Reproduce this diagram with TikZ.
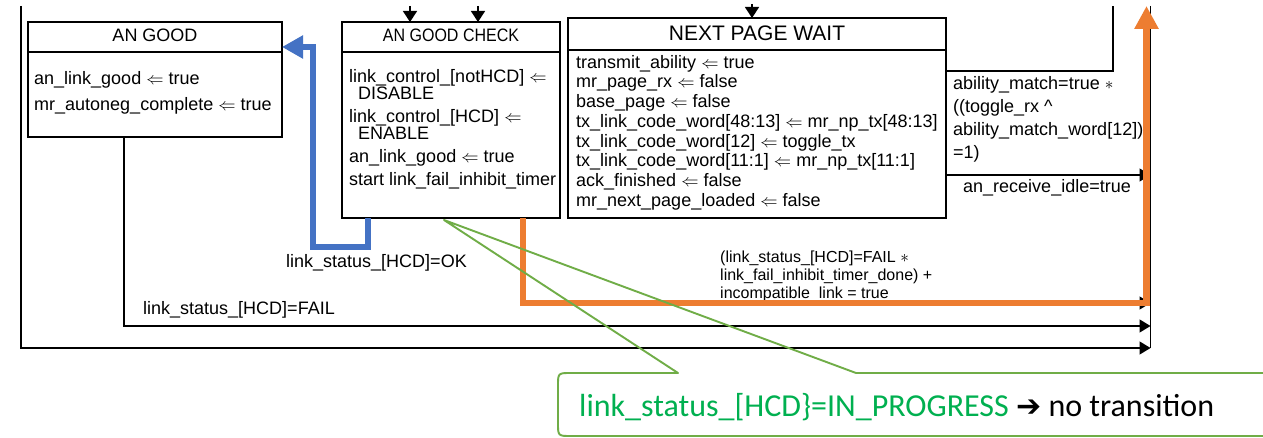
\documentclass[tikz,border=0pt]{standalone}
\usepackage{fontspec}
\setmainfont{Liberation Sans}
\newfontfamily\narrowfont[FakeStretch=0.89]{Liberation Sans}
\newfontfamily\calibfont{Carlito}
\newfontfamily\dejavufont{DejaVu Sans}
\usetikzlibrary{arrows.meta}
\definecolor{hlblue}{HTML}{4472C4}
\definecolor{hlorange}{HTML}{ED7D31}
\definecolor{callline}{HTML}{70AD47}
\definecolor{calltext}{HTML}{00B050}
\newcommand{\getsarrow}{\ensuremath{\Leftarrow}}
\begin{document}
\begin{tikzpicture}[x=1pt,y=-1pt,
  statebox/.style={draw, line width=1.6pt, inner sep=0pt, outer sep=0pt, anchor=north west},
  body/.style={anchor=north west, inner sep=0pt, align=left, font=\fontsize{18}{20}\selectfont},
  lbl/.style={inner sep=0pt, font=\fontsize{18}{20}\selectfont},
  conn/.style={line width=1.4pt, -{Triangle[length=11pt,width=13pt]}},
  plainline/.style={line width=1.4pt},
  topin/.style={line width=1.4pt, -{Triangle[length=11pt,width=14pt]}},
  hlb/.style={hlblue, line width=6.5pt, -{Triangle[length=21pt,width=22pt]}},
  hlo/.style={hlorange, line width=6.5pt, -{Triangle[length=23pt,width=23pt]}},
  callout/.style={callline, line width=1.9pt},
]
\useasboundingbox (0,0) rectangle (1263,438);
\clip (0,0) rectangle (1263,438);
\fill[white] (0,0) rectangle (1263,438);

% states
\node[statebox, minimum width=254pt, minimum height=115pt] (ag) at (28,22) {};
\node[statebox, minimum width=218pt, minimum height=196pt] (acg) at (342,22) {};
\node[statebox, minimum width=378pt, minimum height=200pt] (npw) at (568,18) {};
\draw[plainline] ([yshift=-30pt]ag.north west) -- ([yshift=-30pt]ag.north east);
\draw[plainline] ([yshift=-30pt]acg.north west) -- ([yshift=-30pt]acg.north east);
\draw[plainline] ([yshift=-32pt]npw.north west) -- ([yshift=-32pt]npw.north east);

\node[lbl] (agt) at (155,35.5) {AN GOOD};
\node[lbl, font=\narrowfont\fontsize{18}{20}\selectfont] (acgt) at (451,35.5) {AN GOOD CHECK};
\node[lbl, font=\fontsize{21}{24}\selectfont] (npwt) at (757,33.5) {NEXT PAGE WAIT};

\node[body, font=\fontsize{18}{26}\selectfont] (agb) at (34,71)
  {an\_link\_good \getsarrow{} true\\mr\_autoneg\_complete \getsarrow{} true};
\node[body, font=\fontsize{18}{17}\selectfont] (acgb) at (349,69)
  {link\_control\_[notHCD] \getsarrow\\
   \hspace*{9pt}DISABLE\\[6pt]
   link\_control\_[HCD] \getsarrow\\
   \hspace*{9pt}ENABLE\\[6pt]
   an\_link\_good \getsarrow{} true\\[6pt]
   start link\_fail\_inhibit\_timer};
\node[body, font=\fontsize{18}{19.7}\selectfont] (npwb) at (576,55)
  {transmit\_ability \getsarrow{} true\\
   mr\_page\_rx \getsarrow{} false\\
   base\_page \getsarrow{} false\\
   tx\_link\_code\_word[48:13] \getsarrow{} mr\_np\_tx[48:13]\\
   tx\_link\_code\_word[12] \getsarrow{} toggle\_tx\\
   tx\_link\_code\_word[11:1] \getsarrow{} mr\_np\_tx[11:1]\\
   ack\_finished \getsarrow{} false\\
   mr\_next\_page\_loaded \getsarrow{} false};

% coordinates
\coordinate (busT) at (1150.5,6);
\coordinate (busB) at (1150.5,348);
\coordinate (outerT) at (21,6);
\coordinate (failY) at (0,326);
\coordinate (oY) at (0,303);
\coordinate (idY) at (0,175);
\coordinate (abY) at (0,71);
\coordinate (abTop) at (1113,6);
\coordinate (in1) at (410,6);
\coordinate (in2) at (478,6);
\coordinate (in3) at (752,4);
\coordinate (oCorner) at (1146.5,303);
\coordinate (oTip) at (1146.5,6);
\coordinate (bTurn) at (313,247);
\coordinate (bTop) at (313,47);

% black connectors
\draw[plainline] (busT) -- (busB);
\draw[conn] (outerT) |- (busB);
\draw[conn] ([xshift=-31pt]ag.south) |- (busT |- failY);
\draw[conn] ([xshift=181pt]acg.south west) |- (busT |- oY);
\draw[conn] (npw.east |- idY) -- (busT |- idY);
\draw[plainline] (npw.east |- abY) -| (abTop);
\draw[topin] (in1) -- (in1 |- acg.north);
\draw[topin] (in2) -- (in2 |- acg.north);
\draw[topin] (in3) -- (in3 |- npw.north);

% labels
\node[lbl, anchor=west] (okl) at (286,263) {link\_status\_[HCD]=OK};
\node[lbl, anchor=west] (faill) at (143,310) {link\_status\_[HCD]=FAIL};
\node[body, font=\fontsize{16}{18}\selectfont] (incl) at (720,251)
  {(link\_status\_[HCD]=FAIL $\ast$\\link\_fail\_inhibit\_timer\_done) +\\incompatible\_link = true};
\node[body, font=\fontsize{18}{23}\selectfont] (abl) at (953,76)
  {ability\_match=true $\ast$\\((toggle\_rx \textasciicircum\\ability\_match\_word[12])\\=1)};
\node[lbl, anchor=west] (idl) at (963,188) {an\_receive\_idle=true};

% highlights
\draw[hlb] ([xshift=26pt]acg.south west) |- (bTurn) -- (bTop) -- (ag.east |- bTop);
\draw[hlo] ([xshift=181pt]acg.south west) |- (oCorner) -- (oTip);

% callout
\coordinate (apex) at (444,220);
\draw[callout, line join=round] (678,373) -- (apex) -- (856,373) -- (1290,373) -- (1290,436)
  -- (571,436) .. controls (558,436) .. (558,423) -- (558,386) .. controls (558,373) .. (571,373) -- cycle;
\node[anchor=west, inner sep=0pt, font=\calibfont\fontsize{32}{38}\selectfont] (callout) at (579,407)
  {\textcolor{calltext}{link\_status\_[HCD\}=IN\_PROGRESS} {\dejavufont\bfseries\fontsize{30}{36}\selectfont ➔} no transition};
\end{tikzpicture}
\end{document}
